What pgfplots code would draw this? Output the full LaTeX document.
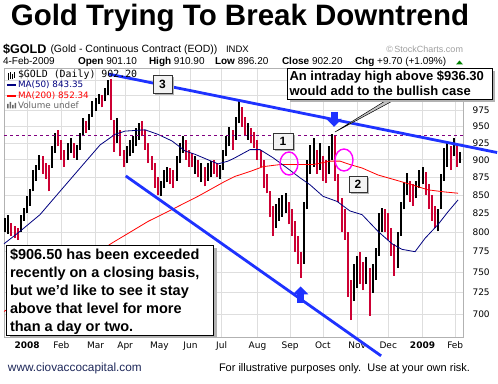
\documentclass[border=0pt]{standalone}
\usepackage{fontspec}
\setmainfont{Liberation Sans}
\newfontfamily\dvs{DejaVu Sans}
\newfontfamily\dvm{DejaVu Sans Mono}
\usepackage{pgfplots}
\pgfplotsset{compat=1.18}
\usepackage{pgfplotstable}
\usetikzlibrary{arrows.meta}

\definecolor{barred}{RGB}{204,0,51}
\definecolor{ma50}{RGB}{0,0,128}
\definecolor{ma200}{RGB}{255,0,0}
\definecolor{trend}{RGB}{30,50,255}
\definecolor{hline}{RGB}{128,0,128}
\definecolor{circ}{RGB}{255,0,255}
\definecolor{gridc}{RGB}{222,222,222}
\definecolor{footblue}{RGB}{30,40,90}

% up (black) bars: trading day, low, high -> segments separated by nan
\pgfplotstableread[row sep=\\]{
x y\\
-14 800\\ -14 818\\ nan nan\\ -12 798\\ -12 822\\ nan nan\\ -4 800\\ -4 822\\ nan nan\\ -2 815\\ -2 832\\ nan nan\\
0 825\\ 0 848\\ nan nan\\ 2 835\\ 2 858\\ nan nan\\ 4 855\\ 4 885\\ nan nan\\ 6 870\\ 6 893\\ nan nan\\
8 885\\ 8 907\\ nan nan\\ 16 888\\ 16 920\\ nan nan\\ 18 910\\ 18 940\\ nan nan\\ 26 900\\ 26 925\\ nan nan\\
28 910\\ 28 933\\ nan nan\\ 32 900\\ 32 922\\ nan nan\\ 34 915\\ 34 940\\ nan nan\\ 36 935\\ 36 963\\ nan nan\\
40 945\\ 40 970\\ nan nan\\ 42 965\\ 42 990\\ nan nan\\ 44 975\\ 44 996\\ nan nan\\ 46 985\\ 46 1002\\ nan nan\\
50 990\\ 50 1012\\ nan nan\\ 52 1000\\ 52 1025\\ nan nan\\ 58 925\\ 58 963\\ nan nan\\ 64 895\\ 64 920\\ nan nan\\
66 905\\ 66 930\\ nan nan\\ 68 910\\ 68 935\\ nan nan\\ 70 920\\ 70 948\\ nan nan\\ 72 930\\ 72 955\\ nan nan\\
86 848\\ 86 870\\ nan nan\\ 88 860\\ 88 885\\ nan nan\\ 90 868\\ 90 889\\ nan nan\\ 96 870\\ 96 905\\ nan nan\\
98 895\\ 98 925\\ nan nan\\ 100 910\\ 100 936\\ nan nan\\ 108 880\\ 108 905\\ nan nan\\ 112 868\\ 112 895\\ nan nan\\
116 870\\ 116 895\\ nan nan\\ 118 875\\ 118 898\\ nan nan\\ 124 872\\ 124 892\\ nan nan\\ 126 885\\ 126 915\\ nan nan\\
128 905\\ 128 935\\ nan nan\\ 130 920\\ 130 950\\ nan nan\\ 134 930\\ 134 965\\ nan nan\\ 136 955\\ 136 990\\ nan nan\\
142 930\\ 142 955\\ nan nan\\ 160 805\\ 160 838\\ nan nan\\ 162 815\\ 162 845\\ nan nan\\ 164 820\\ 164 850\\ nan nan\\
166 825\\ 166 853\\ nan nan\\ 178 760\\ 178 840\\ nan nan\\ 180 830\\ 180 900\\ nan nan\\ 182 880\\ 182 922\\ nan nan\\
184 890\\ 184 933\\ nan nan\\ 188 885\\ 188 925\\ nan nan\\ 194 880\\ 194 920\\ nan nan\\ 196 900\\ 196 938\\ nan nan\\
210 715\\ 210 760\\ nan nan\\ 212 730\\ 212 770\\ nan nan\\ 218 735\\ 218 768\\ nan nan\\ 222 725\\ 222 760\\ nan nan\\
224 740\\ 224 780\\ nan nan\\ 226 770\\ 226 825\\ nan nan\\ 228 800\\ 228 832\\ nan nan\\ 238 755\\ 238 800\\ nan nan\\
240 795\\ 240 840\\ nan nan\\ 242 830\\ 242 868\\ nan nan\\ 244 850\\ 244 881\\ nan nan\\ 250 845\\ 250 870\\ nan nan\\
252 860\\ 252 885\\ nan nan\\ 254 865\\ 254 889\\ nan nan\\ 264 801\\ 264 830\\ nan nan\\ 266 830\\ 266 880\\ nan nan\\
268 870\\ 268 917\\ nan nan\\ 270 890\\ 270 925\\ nan nan\\ 274 905\\ 274 932\\ nan nan\\ 278 896\\ 278 911\\
}\upbars

% down (red) bars
\pgfplotstableread[row sep=\\]{
x y\\
-10 795\\ -10 812\\ nan nan\\ -8 792\\ -8 808\\ nan nan\\ -6 790\\ -6 805\\ nan nan\\ 10 880\\ 10 905\\ nan nan\\
12 872\\ 12 895\\ nan nan\\ 14 855\\ 14 893\\ nan nan\\ 20 920\\ 20 945\\ nan nan\\ 22 900\\ 22 930\\ nan nan\\
24 890\\ 24 915\\ nan nan\\ 30 903\\ 30 925\\ nan nan\\ 38 940\\ 38 958\\ nan nan\\ 48 980\\ 48 1000\\ nan nan\\
54 960\\ 54 1027\\ nan nan\\ 56 912\\ 56 960\\ nan nan\\ 60 905\\ 60 945\\ nan nan\\ 62 889\\ 62 915\\ nan nan\\
74 935\\ 74 958\\ nan nan\\ 76 915\\ 76 945\\ nan nan\\ 78 895\\ 78 925\\ nan nan\\ 80 885\\ 80 905\\ nan nan\\
82 860\\ 82 895\\ nan nan\\ 84 850\\ 84 875\\ nan nan\\ 92 865\\ 92 888\\ nan nan\\ 94 860\\ 94 885\\ nan nan\\
102 900\\ 102 930\\ nan nan\\ 104 890\\ 104 915\\ nan nan\\ 106 889\\ 106 910\\ nan nan\\ 110 875\\ 110 900\\ nan nan\\
114 862\\ 114 890\\ nan nan\\ 120 880\\ 120 900\\ nan nan\\ 122 875\\ 122 895\\ nan nan\\ 132 915\\ 132 945\\ nan nan\\
138 950\\ 138 980\\ nan nan\\ 140 935\\ 140 965\\ nan nan\\ 144 925\\ 144 948\\ nan nan\\ 146 918\\ 146 942\\ nan nan\\
148 900\\ 148 930\\ nan nan\\ 150 889\\ 150 915\\ nan nan\\ 152 860\\ 152 900\\ nan nan\\ 154 852\\ 154 880\\ nan nan\\
156 820\\ 156 855\\ nan nan\\ 158 795\\ 158 835\\ nan nan\\ 168 810\\ 168 840\\ nan nan\\ 170 795\\ 170 830\\ nan nan\\
172 775\\ 172 815\\ nan nan\\ 174 760\\ 174 795\\ nan nan\\ 176 743\\ 176 775\\ nan nan\\ 186 880\\ 186 915\\ nan nan\\
190 870\\ 190 905\\ nan nan\\ 192 866\\ 192 900\\ nan nan\\ 198 870\\ 198 935\\ nan nan\\ 200 840\\ 200 880\\ nan nan\\
202 800\\ 202 845\\ nan nan\\ 204 790\\ 204 830\\ nan nan\\ 206 720\\ 206 800\\ nan nan\\ 208 693\\ 208 740\\ nan nan\\
214 735\\ 214 775\\ nan nan\\ 216 728\\ 216 762\\ nan nan\\ 220 698\\ 220 755\\ nan nan\\ 230 800\\ 230 830\\ nan nan\\
232 790\\ 232 825\\ nan nan\\ 234 770\\ 234 805\\ nan nan\\ 236 745\\ 236 785\\ nan nan\\ 246 840\\ 246 870\\ nan nan\\
248 835\\ 248 865\\ nan nan\\ 256 850\\ 256 882\\ nan nan\\ 258 830\\ 258 865\\ nan nan\\ 260 815\\ 260 850\\ nan nan\\
262 805\\ 262 835\\ nan nan\\ 272 885\\ 272 920\\ nan nan\\ 276 890\\ 276 925\\
}\downbars

\pgfplotstableread[row sep=\\]{
x y\\
-14.8 785\\ -4.5 801\\ 8.3 823\\ 21.2 855\\ 36 893\\ 46.9 922\\ 56.5 938\\ 62.9 943\\ 75.8 945\\
84.1 938\\ 93.1 928\\ 101.5 913\\ 107.9 908\\ 116.2 900\\ 122.7 894\\ 129.1 898\\ 133.6 903\\ 143.2 915\\
149.6 915\\ 158 903\\ 167 888\\ 175.3 874\\ 181.8 864\\ 190.1 848\\ 199.1 841\\ 207.4 828\\ 215.2 823\\
225.4 801\\ 234.4 785\\ 240.8 778\\ 249.2 775\\ 255.6 792\\ 264 810\\ 270.4 827\\ 276.8 843\\
}\maFifty

\pgfplotstableread[row sep=\\]{
x y\\
-14.8 703\\ 20 742\\ 54.6 786\\ 77.7 814\\ 93.1 830\\ 109.8 848\\ 127.2 869\\ 133.6 876\\ 143.2 883\\
151.6 890\\ 162.5 893\\ 173.4 893\\ 183.7 893\\ 194.6 898\\ 201 898\\ 207.4 893\\ 215.2 888\\ 225.4 878\\
236.4 871\\ 247.3 864\\ 257.5 857\\ 268.5 854\\ 276.8 852.3\\
}\maTwoHundred

\begin{document}
\begin{tikzpicture}[x=1pt,y=1pt,t/.style={inner sep=0pt,outer sep=0pt}]
\path[use as bounding box] (0,0) rectangle (498,383);
\fill[white] (0,0) rectangle (498,383);
\begin{axis}[
  at={(4pt,46pt)}, anchor=south west, scale only axis,
  width=459pt, height=269pt,
  xmin=-14.8, xmax=280, ymode=log, ymin=674.4, ymax=1045.2,
  xtick={0,22,44,63,85,105,125,148,169,190,212,232,254,275},
  xticklabels={\textbf{2008},Feb,Mar,Apr,May,Jun,Jul,Aug,Sep,Oct,Nov,Dec,\textbf{2009},Feb},
  ytick={700,725,750,775,800,825,850,875,900,925,950,975,1000,1025},
  yticklabels={700,725,750,775,800,825,850,875,900,925,950,975,,},
  yticklabel pos=right,
  yticklabel style={anchor=west, xshift=6pt, font=\dvs\fontsize{9}{10}\selectfont},
  xticklabel style={font=\dvs\fontsize{9}{10}\selectfont, yshift=-1pt},
  xmajorgrids, ymajorgrids, grid style={gridc, line width=0.6pt},
  axis line style={draw=gray!60},
  major tick length=0pt,
  clip=false,
  unbounded coords=jump,
]
\addplot[barred, line width=2pt, forget plot] table[x=x,y=y] {\downbars};
\addplot[black, line width=2pt, forget plot] table[x=x,y=y] {\upbars};
\addplot[ma200, line width=0.8pt, forget plot] table[x=x,y=y] {\maTwoHundred};
\addplot[ma50, line width=0.8pt, forget plot] table[x=x,y=y] {\maFifty};
\addplot[hline, dashed, line width=0.8pt, forget plot] coordinates {(-14.8,936.3) (280,936.3)};
\addplot[trend, line width=2.8pt, forget plot] coordinates {(52.0,1035) (301.9,910.7)};
\addplot[trend, line width=2.8pt, forget plot] coordinates {(63.4,876.6) (227.4,654)};
\draw[trend, line width=7pt, -{Triangle[width=15pt,length=8pt]}] (axis cs:197.2,972.9) -- (axis cs:197.2,949.5);
\draw[trend, line width=7pt, -{Triangle[width=15pt,length=8pt]}] (axis cs:175.7,712.8) -- (axis cs:175.7,732.3);
\end{axis}

% title and header
\node[t, anchor=base, font=\bfseries\fontsize{29.5}{30}\selectfont] at (240,357) {Gold Trying To Break Downtrend};
\node[t, anchor=base west, font=\bfseries\fontsize{12.6}{13}\selectfont] at (3,329.7) {\$GOLD};
\node[t, anchor=base west, font=\fontsize{10.5}{12}\selectfont] at (50.5,330.3) {(Gold - Continuous Contract (EOD))};
\node[t, anchor=base west, font=\fontsize{9.5}{12}\selectfont] at (226,330.3) {INDX};
\node[t, anchor=base east, font=\fontsize{9}{12}\selectfont, text=gray!75] at (463,330.3) {\textcopyright\,StockCharts.com};
\node[t, anchor=base west, font=\fontsize{10}{12}\selectfont] at (3,318) {4-Feb-2009};
\node[t, anchor=base west, font=\fontsize{10}{12}\selectfont] at (78,318) {\textbf{Open} 901.10};
\node[t, anchor=base west, font=\fontsize{10}{12}\selectfont] at (149,318) {\textbf{High} 910.90};
\node[t, anchor=base west, font=\fontsize{10}{12}\selectfont] at (215,318) {\textbf{Low} 896.20};
\node[t, anchor=base west, font=\fontsize{10}{12}\selectfont] at (282,318) {\textbf{Close} 902.20};
\node[t, anchor=base west, font=\fontsize{10}{12}\selectfont] at (355,318) {\textbf{Chg} +9.70 (+1.09\%)};
\fill[green!50!black] (456,318.5) -- (463,318.5) -- (459.5,322.5) -- cycle;

% legend
\draw[black, line width=0.8pt] (8,303) -- (8,310) (10,304) -- (10,311) (12,303.5) -- (12,309) (14,305) -- (14,311);
\node[t, anchor=base west, font=\dvm\fontsize{9.9}{11}\selectfont] at (18,305.5) {\$GOLD (Daily) 902.20};
\draw[ma50, line width=2pt] (7,297.7) -- (16,297.7);
\node[t, anchor=base west, font=\dvs\fontsize{8.8}{10}\selectfont, text=ma50] at (18,295) {MA(50) 843.35};
\draw[ma200, line width=2pt] (7,287.2) -- (16,287.2);
\node[t, anchor=base west, font=\dvs\fontsize{8.8}{10}\selectfont, text=ma200] at (18,284.5) {MA(200) 852.34};
\fill[gray!80!black] (7,274.5) rectangle (8.5,279) (9.5,274.5) rectangle (11,281) (12,274.5) rectangle (13.5,278) (14.5,274.5) rectangle (16,280);
\node[t, anchor=base west, font=\dvs\fontsize{8.8}{10}\selectfont, text=gray!80!black] at (18,274.5) {Volume undef};

% circles
\draw[circ, line width=1.4pt] (289,219.5) ellipse [x radius=9pt, y radius=11.5pt];
\draw[circ, line width=1.4pt] (344,223) ellipse [x radius=9pt, y radius=11pt];

% number boxes
\fill[gray!60] (275,232) rectangle (295,248);
\draw[fill=gray!10, draw=black!80, line width=0.7pt] (273,234) rectangle (293,250);
\node[t, font=\bfseries\fontsize{12}{12}\selectfont] at (283,242) {1};
\fill[gray!60] (351,189) rectangle (369,205);
\draw[fill=gray!10, draw=black!80, line width=0.7pt] (349,191) rectangle (367,207);
\node[t, font=\bfseries\fontsize{12}{12}\selectfont] at (358,199) {2};
\fill[gray!60] (155,288) rectangle (174,306);
\draw[fill=gray!10, draw=black!80, line width=0.7pt] (153,290) rectangle (172,308);
\node[t, font=\bfseries\fontsize{12}{12}\selectfont] at (162.5,299) {3};

% pointer and top annotation
\filldraw[fill=gray!45, draw=black, line width=0.5pt] (390,285) -- (398,285) -- (335,251) -- cycle;
\fill[gray!60] (290,281) rectangle (495,312);
\draw[fill=white, draw=black, line width=0.8pt] (287,284) rectangle (492,315);
\node[t, anchor=base west, font=\bfseries\fontsize{13}{13}\selectfont] at (289.5,302.3) {An intraday high above \$936.30};
\node[t, anchor=base west, font=\bfseries\fontsize{13}{13}\selectfont] at (289.5,287.5) {would add to the bullish case};

% bottom-left annotation
\fill[gray!60] (10,45) rectangle (216.5,135);
\draw[fill=white, draw=black, line width=0.8pt] (6.7,48) rectangle (213.3,138);
\node[t, anchor=base west, font=\bfseries\fontsize{14.5}{15}\selectfont] at (10,123.7) {\$906.50 has been exceeded};
\node[t, anchor=base west, font=\bfseries\fontsize{14.5}{15}\selectfont] at (10,105.3) {recently on a closing basis,};
\node[t, anchor=base west, font=\bfseries\fontsize{14.5}{15}\selectfont] at (10,87.3) {but we\char39 d like to see it stay};
\node[t, anchor=base west, font=\bfseries\fontsize{14.5}{15}\selectfont] at (10,69) {above that level for more};
\node[t, anchor=base west, font=\bfseries\fontsize{14.5}{15}\selectfont] at (10,51.3) {than a day or two.};

% footer
\node[t, anchor=base west, font=\fontsize{11.8}{12}\selectfont, text=footblue] at (8,11.5) {www.ciovaccocapital.com};
\node[t, anchor=base west, font=\fontsize{11}{12}\selectfont] at (219,11.5) {For illustrative purposes only.\ \ Use at your own risk.};
\end{tikzpicture}
\end{document}
